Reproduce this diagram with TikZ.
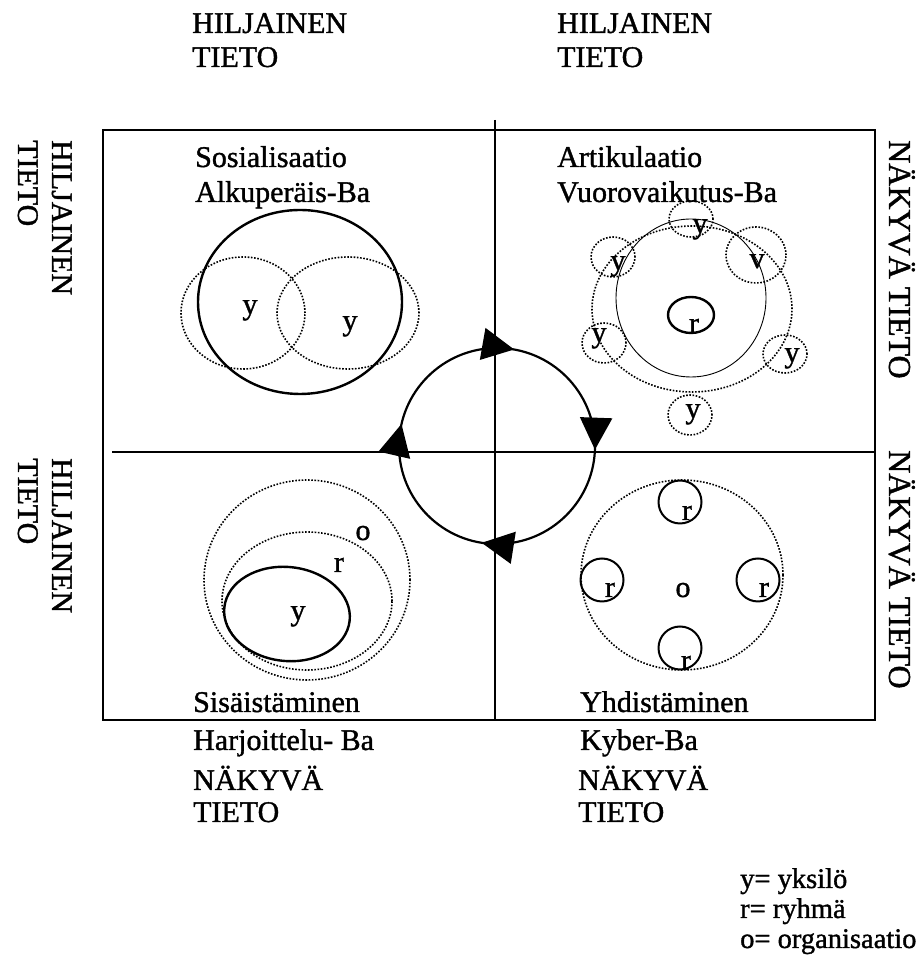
\documentclass[tikz,border=0pt]{standalone}
\usepackage{fontspec}
\setmainfont{Liberation Serif}
\newfontfamily\scanfont{Liberation Serif}[FakeBold=1.2]
\usetikzlibrary{arrows.meta, decorations.markings}
\newcommand{\lblfont}{\scanfont\fontsize{30}{34}\selectfont}
\newcommand{\sidefont}{\scanfont\fontsize{32}{36}\selectfont}
\newcommand{\legfont}{\scanfont\fontsize{28.5}{30}\selectfont}

\begin{document}
\begin{tikzpicture}[
		x=1pt, y=1pt,
		lbl/.style={anchor=base west, inner sep=0pt, font=\lblfont},
		letter/.style={anchor=base, inner sep=0pt, font=\lblfont},
		sidelbl/.style={anchor=base west, inner sep=0pt, rotate=-90, font=\lblfont},
		frame/.style={line width=1.8pt},
		ring/.style={line width=2.4pt},
		thinring/.style={line width=0.9pt},
		dotring/.style={line width=1.6pt, dash pattern=on 1.6pt off 1.6pt},
		cycarr/.style={line width=2.2pt, postaction={decorate}, decoration={markings,
			mark=at position 0.028 with {\arrow{Triangle[length=32pt, width=32pt]}},
			mark=at position 0.256 with {\arrow{Triangle[length=32pt, width=32pt]}},
			mark=at position 0.525 with {\arrow{Triangle[length=32pt, width=32pt]}},
			mark=at position 0.786 with {\arrow{Triangle[length=32pt, width=32pt]}}}}
	]
	\useasboundingbox (0,0) rectangle (922,963);

	% Frame and axes
	\draw[frame] (103,243) rectangle (875,833);
	\draw[frame] (495,843) -- (495,243);
	\draw[frame] (112,511) -- (875,511);

	% Outer labels
	\node[lbl] (tl1) at (192,930) {HILJAINEN};
	\node[lbl] (tl2) at (192,896) {TIETO};
	\node[lbl] (tr1) at (557,930) {HILJAINEN};
	\node[lbl] (tr2) at (557,896) {TIETO};
	\node[lbl] (bl1) at (193,173) {NÄKYVÄ};
	\node[lbl] (bl2) at (193,141) {TIETO};
	\node[lbl] (br1) at (578,173) {NÄKYVÄ};
	\node[lbl] (br2) at (578,141) {TIETO};
	\node[sidelbl] (lu1) at (52,823) {HILJAINEN};
	\node[sidelbl] (lu2) at (18,823) {TIETO};
	\node[sidelbl] (ll1) at (52,505) {HILJAINEN};
	\node[sidelbl] (ll2) at (18,505) {TIETO};
	\node[sidelbl, font=\sidefont] (ru) at (889,823) {NÄKYVÄ TIETO};
	\node[sidelbl, font=\sidefont] (rl) at (889,513) {NÄKYVÄ TIETO};

	% Quadrant titles
	\node[lbl] (sos) at (195,796) {Sosialisaatio};
	\node[lbl] (sosba) at (195,761) {Alkuperäis-Ba};
	\node[lbl] (art) at (557,796) {Artikulaatio};
	\node[lbl] (artba) at (557,761) {Vuorovaikutus-Ba};
	\node[lbl] (sis) at (193,251) {Sisäistäminen};
	\node[lbl] (sisba) at (193,213) {Harjoittelu- Ba};
	\node[lbl] (yhd) at (580,251) {Yhdistäminen};
	\node[lbl] (yhdba) at (580,213) {Kyber-Ba};

	% Cycle
	\node[circle, minimum size=196pt, inner sep=0pt, outer sep=0pt] (cyc) at (497,517) {};
	\draw[cycarr] (cyc.90) arc[start angle=90, end angle=-270, radius=98];

	% Sosialisaatio
	\draw[ring] (300,661) ellipse [x radius=102, y radius=92];
	\draw[dotring] (243,650) ellipse [x radius=62, y radius=56];
	\draw[dotring] (348,650) ellipse [x radius=71, y radius=56];
	\node[letter] (sy1) at (250,649) {y};
	\node[letter] (sy2) at (350,633) {y};

	% Artikulaatio
	\draw[dotring] (692,654) ellipse [x radius=100, y radius=83];
	\draw[thinring] (691,665) ellipse [x radius=75, y radius=79];
	\draw[ring] (691,648) ellipse [x radius=23, y radius=18];
	\node[letter] (ar) at (694,630) {r};
	\draw[dotring] (691,744) ellipse [x radius=22, y radius=18];
	\draw[dotring] (613,706) ellipse [x radius=22, y radius=20];
	\draw[dotring] (756,708) ellipse [x radius=30, y radius=28];
	\draw[dotring] (604,620) ellipse [x radius=22, y radius=20];
	\draw[dotring] (785,609) ellipse [x radius=22, y radius=19];
	\draw[dotring] (690,548) ellipse [x radius=22, y radius=20];
	\node[letter] (ay1) at (700,730) {y};
	\node[letter] (ay2) at (618,693) {y};
	\node[letter] (ay3) at (757,695) {v};
	\node[letter] (ay4) at (599,621) {y};
	\node[letter] (ay5) at (792,601) {y};
	\node[letter] (ay6) at (693,545) {y};

	% Sisaistaminen
	\draw[dotring] (307,383) ellipse [x radius=103, y radius=100];
	\draw[dotring] (307,362) ellipse [x radius=85, y radius=69];
	\draw[ring, rotate around={-6:(287,349)}] (287,349) ellipse [x radius=63, y radius=47];
	\node[letter] (so) at (363,423) {o};
	\node[letter] (sr) at (339,391) {r};
	\node[letter] (sy) at (298,343) {y};

	% Yhdistaminen
	\draw[dotring] (682,388) ellipse [x radius=101, y radius=95];
	\foreach \cx/\cy in {680/461, 602/383, 758/383, 680/315}
		\draw[line width=2pt] (\cx,\cy) circle [radius=21.5];
	\node[letter] (yr1) at (687,443) {r};
	\node[letter] (yr2) at (610,366) {r};
	\node[letter] (yr3) at (764,366) {r};
	\node[letter] (yr4) at (686,293) {r};
	\node[letter] (yo) at (683,366) {o};

	% Legend
	\node[lbl, font=\legfont] (leg1) at (740,75) {y= yksilö};
	\node[lbl, font=\legfont] (leg2) at (740,45) {r= ryhmä};
	\node[lbl, font=\legfont] (leg3) at (740,15) {o= organisaatio};
\end{tikzpicture}
\end{document}
